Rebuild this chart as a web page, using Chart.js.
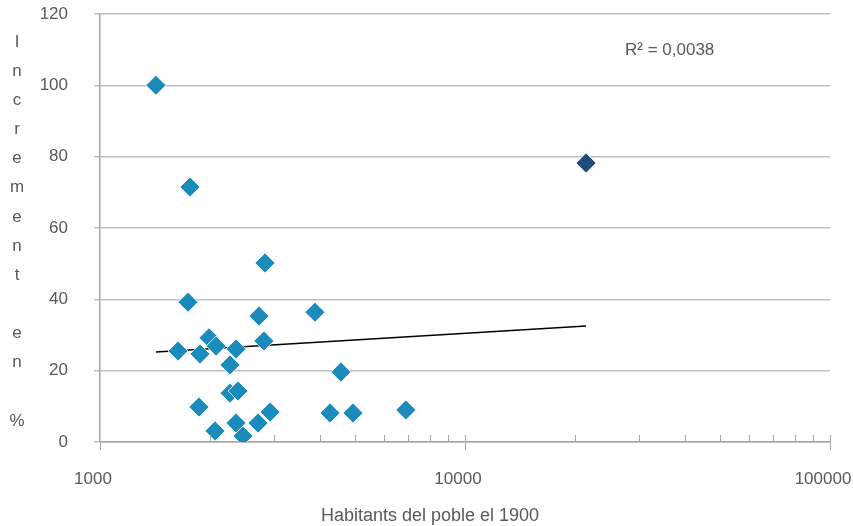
<!DOCTYPE html>
<html>
<head>
<meta charset="utf-8">
<script src="https://cdn.jsdelivr.net/npm/chart.js@4/dist/chart.umd.min.js"></script>
<style>
  html, body { margin: 0; padding: 0; background: #fff; }
  #wrap { width: 853px; height: 526px; }
</style>
</head>
<body>
<div id="wrap"><canvas id="chart"></canvas></div>
<script>
// Habitants 1900 (x) vs increment % (y)
const habitants = [1423, 1764, 1742, 2832, 2727, 2812, 3881, 1636, 1879, 1989, 2080, 2359, 2271,
                   4571, 2271, 2388, 1867, 2066, 2359, 2465, 2711, 2924, 4267, 4933, 6885];
const increment = [100, 71.5, 39.2, 50.2, 35.3, 28.3, 36.4, 25.5, 24.7, 29.2, 26.9, 26.1, 21.6,
                   19.6, 13.7, 14.3, 9.8, 3.1, 5.3, 1.7, 5.3, 8.4, 8.1, 8.1, 9.0];
// highlighted point
const highX = [21460];
const highY = [78.2];
// trend line endpoints
const trendX = [1423, 21460];
const trendY = [25.2, 32.5];
const xTicks = [1000, 10000, 100000];
const xTitle = 'Habitants del poble el 1900';
const yTitle = 'Increment en %';
const r2Label = 'R² = 0,0038';

const FONT = "'Liberation Sans', Arial, sans-serif";
const TXT = '#595959';

const toPoints = (xs, ys) => xs.map((x, i) => ({ x: x, y: ys[i] }));

const extras = {
    id: 'extras',
    afterDraw(chart) {
        const ctx = chart.ctx;
        const xs = chart.scales.x;
        const area = chart.chartArea;
        ctx.save();
        // minor ticks on the log axis
        ctx.strokeStyle = '#a6a6a6';
        ctx.lineWidth = 1;
        for (let d = 1000; d < 100000; d *= 10) {
            for (let m = 2; m <= 10; m++) {
                const px = Math.round(xs.getPixelForValue(d * m)) + 0.5;
                ctx.beginPath();
                ctx.moveTo(px, area.bottom);
                ctx.lineTo(px, area.bottom - 7);
                ctx.stroke();
            }
        }
        ctx.fillStyle = TXT;
        ctx.font = '17px ' + FONT;
        ctx.textAlign = 'center';
        ctx.textBaseline = 'middle';
        // stacked y title
        yTitle.split('').forEach((ch, i) => {
            if (ch !== ' ') ctx.fillText(ch, 17, 42 + i * 29.15);
        });
        // R² label
        ctx.textAlign = 'left';
        ctx.fillText(r2Label, 625, 50);
        // x title
        ctx.textAlign = 'center';
        ctx.font = '18px ' + FONT;
        ctx.fillText(xTitle, 430, 516);
        ctx.restore();
    }
};

new Chart(document.getElementById('chart'), {
    type: 'scatter',
    data: {
        datasets: [
            {
                label: 'trend',
                type: 'line',
                data: toPoints(trendX, trendY),
                borderColor: '#000',
                borderWidth: 1.5,
                pointRadius: 0,
                fill: false,
                order: 2
            },
            {
                label: 'pobles',
                data: toPoints(habitants, increment),
                pointStyle: 'rectRot',
                pointRadius: 10,
                backgroundColor: '#1b8bbb',
                borderColor: '#ffffff',
                borderWidth: 0.8,
                order: 1
            },
            {
                label: 'ciutat',
                data: toPoints(highX, highY),
                pointStyle: 'rectRot',
                pointRadius: 10,
                backgroundColor: '#1f4d7e',
                borderColor: '#ffffff',
                borderWidth: 0.8,
                order: 1
            }
        ]
    },
    plugins: [extras],
    options: {
        responsive: true,
        maintainAspectRatio: false,
        animation: false,
        layout: { padding: { left: 0, right: 23, top: 14, bottom: 0 } },
        plugins: { legend: { display: false }, tooltip: { enabled: false } },
        scales: {
            x: {
                type: 'logarithmic',
                min: 1000,
                max: 100000,
                afterBuildTicks: (s) => { s.ticks = xTicks.map(v => ({ value: v, major: true })); },
                afterFit: (s) => { s.height = 84; s.paddingLeft = 0; s.paddingRight = 0; },
                border: { color: '#a6a6a6', width: 1.5 },
                grid: { drawOnChartArea: false, color: '#a6a6a6', tickLength: 8 },
                ticks: { color: TXT, font: { family: FONT, size: 17 }, padding: 19, maxRotation: 0,
                         labelOffset: -7, callback: (v) => String(v) }
            },
            y: {
                min: 0,
                max: 120,
                afterFit: (s) => { s.width = 100; s.paddingTop = 0; s.paddingBottom = 0; },
                border: { color: '#a6a6a6', width: 1.5 },
                grid: { color: '#bfbfbf', lineWidth: 1.5, tickLength: 6 },
                ticks: { stepSize: 20, color: TXT, font: { family: FONT, size: 17 }, padding: 26 }
            }
        }
    }
});
</script>
</body>
</html>
